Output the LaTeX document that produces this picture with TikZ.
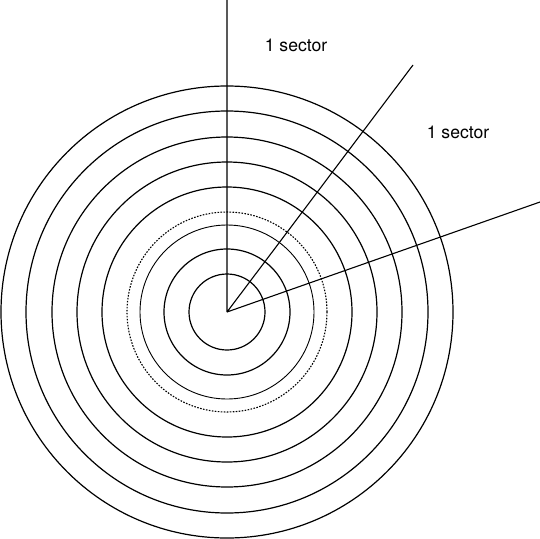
\documentclass[tikz,border=0pt]{standalone}
\usepackage{fontspec}
\setmainfont{TeX Gyre Heros}
\usetikzlibrary{positioning}

\begin{document}
\begin{tikzpicture}[x=1pt, y=-1pt, line width=1pt]
        \tikzset{track/.style={draw, line width=1.2pt}}
        % Define attributes for the rough inner tracks
        \tikzstyle{rough track}=[draw, line width=1.1pt, dash pattern=on 1.6pt off 1.4pt]

        \useasboundingbox (0,0) rectangle (540,538);
        \coordinate (hub) at (227,312);
        \foreach \r in {226,201,175,150,125,63,38}
            \draw[track] (hub) circle (\r pt);
        \draw[rough track] (hub) circle (100pt);
        \draw[line width=0.9pt] (hub) circle (87pt);

        \coordinate (up) at (227,0);
        \coordinate (mid) at (413,65);
        \coordinate (low) at (540,202);
        \path[draw, line width=1.1pt]
        (hub) -- (up)
        (hub) -- (mid)
        (hub) -- (low);

        \node[font=\fontsize{17.6}{20}\selectfont] (sec1) at (296,45) {1 sector};
        \node[font=\fontsize{17.6}{20}\selectfont] (sec2) at (458,132) {1 sector};
    \end{tikzpicture}
\end{document}
